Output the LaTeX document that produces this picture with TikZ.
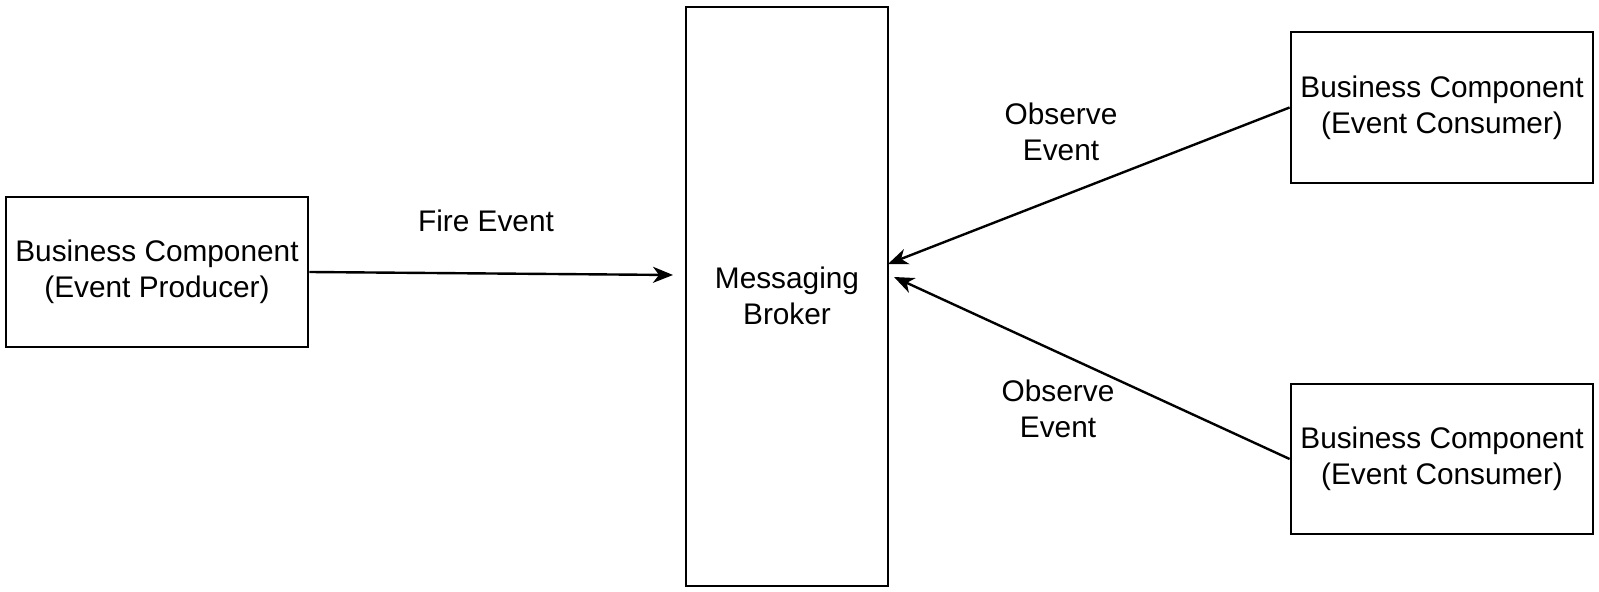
\documentclass[tikz,border=0pt]{standalone}
\usepackage{fontspec}
\setmainfont{Liberation Sans}
\usetikzlibrary{arrows.meta}
\begin{document}
\begin{tikzpicture}[x=0.5pt,y=-0.5pt,
  box/.style={draw=black,line width=1.4pt,fill=white,align=center,inner sep=0pt,
    font=\fontsize{14.9pt}{18pt}\selectfont},
  lbl/.style={align=center,inner sep=0pt,font=\fontsize{14.9pt}{18pt}\selectfont},
  arr/.style={draw=black,line width=1.2pt,-{Stealth[length=10pt,width=8pt,inset=3pt]}}]
\useasboundingbox (0,0) rectangle (1599,592);
\node[box,minimum width=151pt,minimum height=75pt] (prod) at (157,272) {Business Component\\(Event Producer)};
\node[box,minimum width=101pt,minimum height=289.5pt] (broker) at (787,296.5) {};
\node[lbl] (brokertxt) at (787,296) {Messaging\\Broker};
\node[box,minimum width=151pt,minimum height=75.5pt] (c1) at (1442,107.5) {Business Component\\(Event Consumer)};
\node[box,minimum width=151pt,minimum height=75pt] (c2) at (1442,459) {Business Component\\(Event Consumer)};
\coordinate (fe) at (673,275);
\coordinate (o1) at (888,264);
\coordinate (o2) at (894,277);
\draw[arr] (prod.east) -- (fe);
\draw[arr] (c1.west) -- (o1);
\draw[arr] (c2.west) -- (o2);
\node[lbl] (lfe) at (486,221) {Fire Event};
\node[lbl] (lo1) at (1061,132) {Observe\\Event};
\node[lbl] (lo2) at (1058,409) {Observe\\Event};
\end{tikzpicture}
\end{document}
